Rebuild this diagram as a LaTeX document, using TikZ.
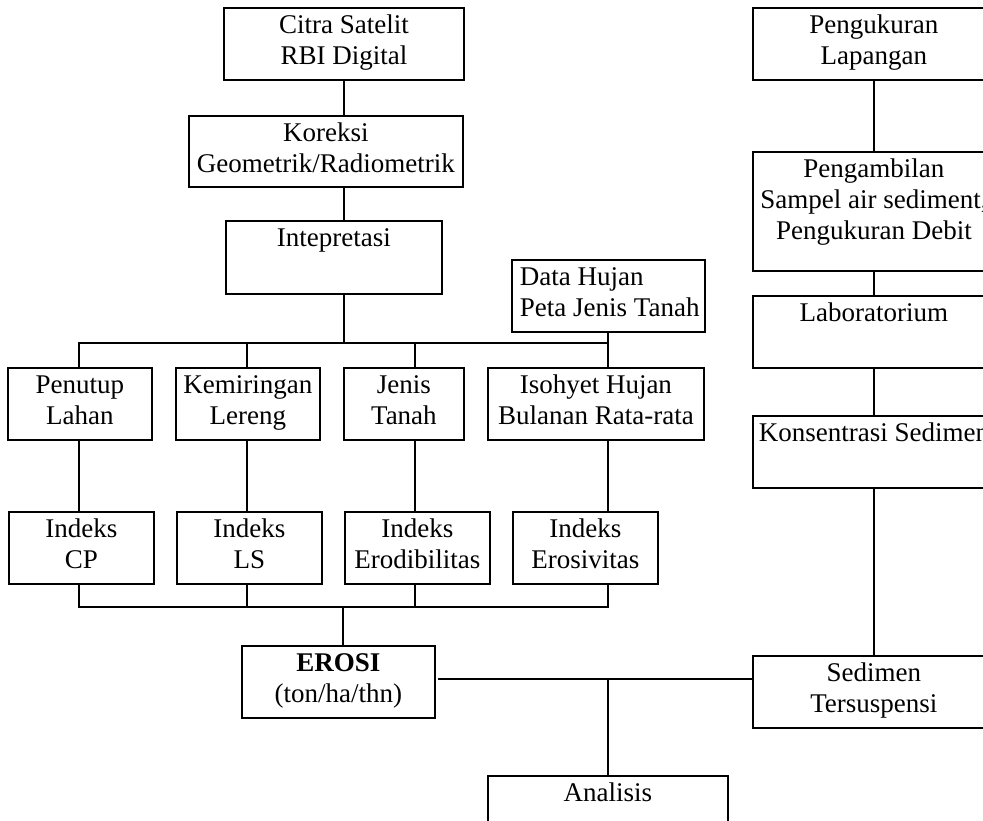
\documentclass[tikz,border=0pt]{standalone}
\usepackage{fontspec}
\setmainfont{Liberation Serif}
\usetikzlibrary{calc}
\newcommand{\isi}[3]{\parbox[t][#2pt][t]{#1pt}{\centering\rule{0pt}{26pt}#3}}
\newcommand{\isikiri}[3]{\parbox[t][#2pt][t]{#1pt}{\raggedright\leftskip=8pt\rule{0pt}{26pt}#3}}
\tikzset{kotak/.style={draw,inner sep=0pt,anchor=north west}}
\begin{document}
\begin{tikzpicture}[line cap=rect,x=1pt,y=-1pt,line width=1.8pt,font=\fontsize{27}{31}\selectfont]
\useasboundingbox (0,0) rectangle (983,821);
\clip (0,0) rectangle (983,821);
\node[kotak] (citra) at (223,7) {\isi{240}{72}{Citra Satelit\\RBI Digital}};
\node[kotak] (koreksi) at (188,115) {\isi{274}{71}{Koreksi\\Geometrik/Radiometrik}};
\node[kotak] (intep) at (225,220) {\isi{216}{73}{Intepretasi}};
\node[kotak] (data) at (511,259) {\isikiri{193}{72}{Data Hujan\\Peta Jenis Tanah}};
\node[kotak] (penutup) at (7,367) {\isi{144}{72}{Penutup\\Lahan}};
\node[kotak] (lereng) at (175,367) {\isi{144}{72}{Kemiringan\\Lereng}};
\node[kotak] (tanah) at (343,367) {\isi{120}{72}{Jenis\\Tanah}};
\node[kotak] (isohyet) at (487,367) {\isi{216}{72}{Isohyet Hujan\\Bulanan Rata-rata}};
\node[kotak] (cp) at (8,511) {\isi{145}{72}{Indeks\\CP}};
\node[kotak] (ls) at (176,511) {\isi{145}{72}{Indeks\\LS}};
\node[kotak] (erod) at (344,511) {\isi{145}{72}{Indeks\\Erodibilitas}};
\node[kotak] (eros) at (512,511) {\isi{145}{72}{Indeks\\Erosivitas}};
\node[kotak] (erosi) at (241,645) {\isi{193}{72}{\textbf{EROSI}\\(ton/ha/thn)}};
\node[kotak] (analisis) at (487,775) {\isi{240}{73}{Analisis}};
\node[kotak] (ukur) at (752,7) {\isi{242}{72}{Pengukuran\\Lapangan}};
\node[kotak] (sampel) at (752,151) {\isi{242}{119}{Pengambilan\\Sampel air sediment,\\Pengukuran Debit}};
\node[kotak] (lab) at (752,295) {\isi{242}{72}{Laboratorium}};
\node[kotak] (konsen) at (752,415) {\isi{242}{72}{Konsentrasi Sedimen}};
\node[kotak] (sedimen) at (752,655) {\isi{242}{72}{Sedimen\\Tersuspensi}};
\coordinate (k1) at (79,343);
\coordinate (k2) at (247,343);
\coordinate (k3) at (415,343);
\coordinate (k4) at (608,343);
\coordinate (b2) at (343,607);
\coordinate (t1) at (439,679);
\draw (citra.south)-- (citra.south|-koreksi.north);
\draw (citra.south|-koreksi.south)-- (citra.south|-intep.north);
\draw (citra.south|-intep.south)-- (citra.south|-k1);
\draw (k1)-- (k4);
\draw (k4|-data.south)-- (k4|-isohyet.north);
\draw (k1)-- (k1|-penutup.north);
\draw (k2)-- (k2|-lereng.north);
\draw (k3)-- (k3|-tanah.north);
\draw (k1|-penutup.south)-- (k1|-cp.north);
\draw (k2|-lereng.south)-- (k2|-ls.north);
\draw (k3|-tanah.south)-- (k3|-erod.north);
\draw (k4|-isohyet.south)-- (k4|-eros.north);
\draw (k1|-cp.south)-- (k1|-b2);
\draw (k2|-ls.south)-- (k2|-b2);
\draw (k3|-erod.south)-- (k3|-b2);
\draw (k4|-eros.south)-- (k4|-b2);
\draw (k1|-b2)-- (k4|-b2);
\draw (b2)-- (b2|-erosi.north);
\draw (t1)-- (t1-|sedimen.west);
\draw (k4|-t1)-- (k4|-analisis.north);
\draw (ukur.south)-- (ukur.south|-sampel.north);
\draw (ukur.south|-sampel.south)-- (ukur.south|-lab.north);
\draw (ukur.south|-lab.south)-- (ukur.south|-konsen.north);
\draw (ukur.south|-konsen.south)-- (ukur.south|-sedimen.north);
\end{tikzpicture}
\end{document}
